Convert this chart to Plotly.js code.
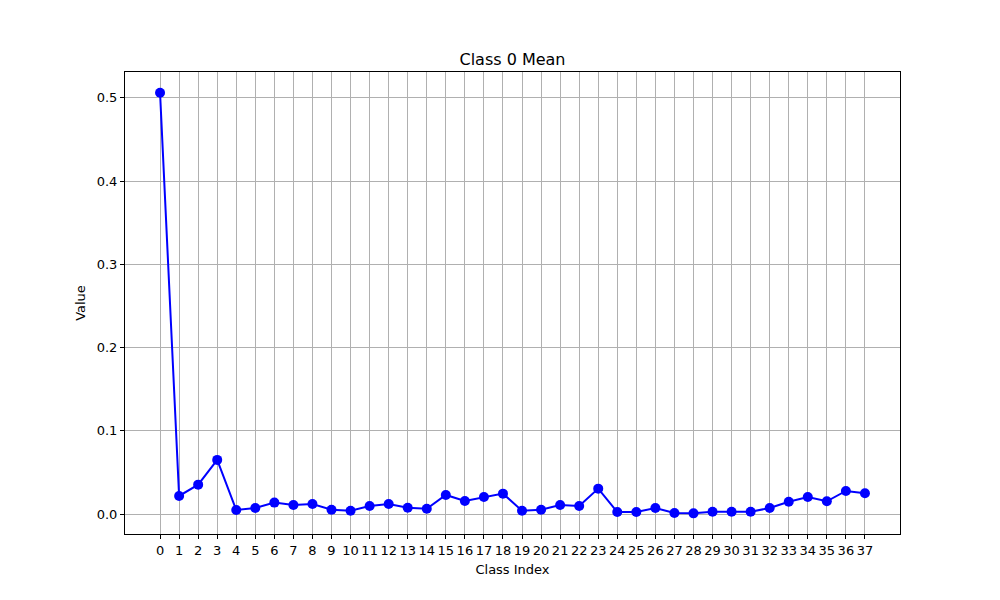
<!DOCTYPE html>
<html>
<head>
<meta charset="utf-8">
<script src="https://cdn.plot.ly/plotly-3.0.1.min.js"></script>
<style>
  html, body { margin: 0; padding: 0; background: #fff; }
  #plot { width: 1000px; height: 600px; }
</style>
</head>
<body>
<div id="plot"></div>
<script>
// Class indices and mean values
let classIndex = [];
for (let i = 0; i < 38; i++) classIndex.push(i);

let meanValues = [
  0.506, 0.0217, 0.0353, 0.065, 0.0048, 0.0072, 0.0137, 0.0108, 0.012, 0.0052,
  0.004, 0.0096, 0.012, 0.0076, 0.0064, 0.0229, 0.0157, 0.0205, 0.0245, 0.004,
  0.0052, 0.0108, 0.0096, 0.0305, 0.0024, 0.0024, 0.0072, 0.0012, 0.0008, 0.0028,
  0.0028, 0.0028, 0.0072, 0.0148, 0.0205, 0.0153, 0.0277, 0.0249
];

let yTicks = [0, 0.1, 0.2, 0.3, 0.4, 0.5];
let yTickLabels = ["0.0", "0.1", "0.2", "0.3", "0.4", "0.5"];

let trace = {
  x: classIndex,
  y: meanValues,
  type: "scatter",
  mode: "lines+markers",
  line: { color: "blue", width: 2 },
  marker: { color: "blue", size: 10 },
  showlegend: false
};

let layout = {
  width: 1000,
  height: 600,
  margin: { l: 125, r: 100, t: 72, b: 66 },
  paper_bgcolor: "#fff",
  plot_bgcolor: "#fff",
  font: { family: "DejaVu Sans", size: 13, color: "#000" },
  title: {
    text: "Class 0 Mean",
    font: { size: 16 },
    x: 0.5125,
    xanchor: "center",
    y: 0.892,
    yanchor: "bottom"
  },
  xaxis: {
    title: { text: "Class Index", font: { size: 13 }, standoff: 8 },
    range: [-1.84, 38.84],
    tickmode: "array",
    tickvals: classIndex,
    ticktext: classIndex.map(String),
    ticks: "outside",
    ticklen: 4,
    tickcolor: "#000",
    showgrid: true,
    gridcolor: "#b0b0b0",
    gridwidth: 1,
    zeroline: false,
    showline: true,
    linecolor: "#000",
    linewidth: 1,
    mirror: true
  },
  yaxis: {
    title: { text: "Value", font: { size: 13 }, standoff: 8 },
    range: [-0.024, 0.531],
    tickmode: "array",
    tickvals: yTicks,
    ticktext: yTickLabels,
    ticks: "outside",
    ticklen: 4,
    tickcolor: "#000",
    showgrid: true,
    gridcolor: "#b0b0b0",
    gridwidth: 1,
    zeroline: false,
    showline: true,
    linecolor: "#000",
    linewidth: 1,
    mirror: true
  }
};

Plotly.newPlot("plot", [trace], layout, { staticPlot: true });
</script>
</body>
</html>
